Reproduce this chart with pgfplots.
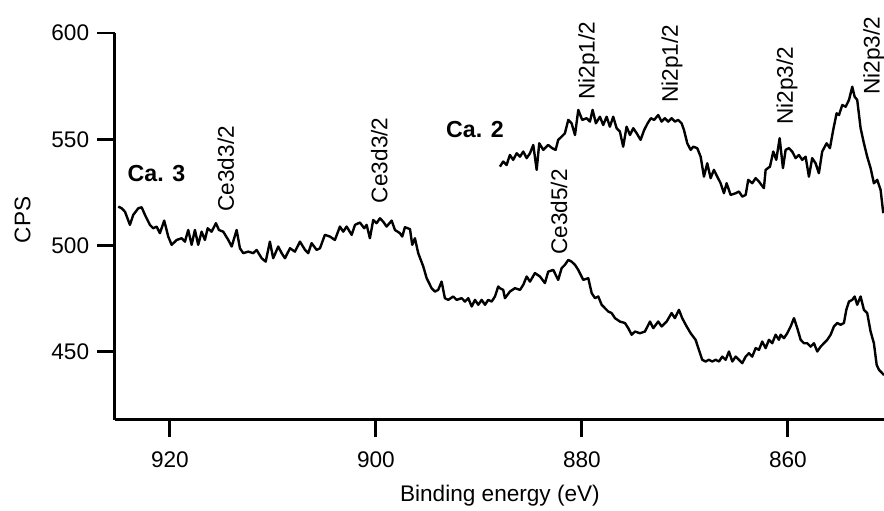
\documentclass[border=0pt]{standalone}
\usepackage{fontspec}
\setmainfont{Liberation Sans}
\usepackage{pgfplots}
\pgfplotsset{compat=1.18}
\pgfplotstableread{
x y
925.01 518.3
924.68 517.5
924.36 515.9
923.88 509.7
923.56 514.4
923.07 517.5
922.74 518.0
922.42 514.4
921.94 509.7
921.62 508.1
921.29 508.9
920.97 505.8
920.55 511.7
920.16 504.2
919.83 500.3
919.34 502.6
918.86 503.4
918.54 501.8
918.22 507.3
917.89 500.3
917.57 507.3
917.25 500.3
916.92 506.5
916.60 502.6
916.33 508.1
915.95 506.5
915.53 510.5
915.24 507.3
914.82 506.5
914.33 502.6
914.00 499.5
913.52 507.3
913.20 498.7
912.88 496.4
912.39 497.1
911.91 496.4
911.58 497.9
911.09 494.0
910.70 492.4
910.29 501.8
909.97 494.0
909.48 499.5
909.15 496.4
908.83 494.0
908.34 498.7
907.86 497.1
907.37 501.8
906.89 498.0
906.57 496.4
906.24 501.1
905.75 497.9
905.43 498.7
904.95 505.0
904.46 504.2
903.98 502.6
903.49 508.9
903.17 506.5
902.84 508.9
902.35 505.0
902.03 509.7
901.55 510.8
901.13 508.1
900.90 509.7
900.58 503.4
900.26 512.0
899.93 510.5
899.61 512.8
899.29 511.2
898.96 508.9
898.47 511.7
898.15 507.3
897.67 505.8
897.44 504.2
897.18 508.6
896.69 507.7
896.47 500.3
896.21 503.4
895.89 496.4
895.40 490.1
895.07 484.6
894.59 479.9
894.27 478.3
893.95 479.1
893.62 483.0
893.30 475.2
892.98 474.4
892.49 476.0
892.16 474.4
891.67 475.2
891.35 473.6
891.03 475.2
890.70 471.3
890.38 474.4
890.06 472.1
889.73 474.4
889.41 472.1
889.09 474.4
888.76 473.6
888.44 476.0
888.12 480.7
887.96 479.9
887.64 479.1
887.47 475.2
886.99 478.3
886.50 479.9
886.01 479.1
885.69 481.5
885.36 485.4
885.04 483.0
884.56 487.0
884.07 485.4
883.59 482.3
883.27 487.7
882.78 488.5
882.30 483.8
881.97 489.3
881.65 490.9
881.32 493.2
881.00 492.4
880.67 490.9
880.35 488.5
879.87 483.8
879.38 484.6
879.05 477.6
878.73 475.2
878.41 476.0
878.08 472.1
877.76 470.5
877.44 468.9
877.11 468.2
876.79 465.8
876.31 464.2
875.82 463.5
875.50 461.1
875.17 458.0
874.85 459.5
874.36 458.7
873.88 459.5
873.39 464.2
873.07 461.1
872.59 464.2
872.26 461.9
871.77 464.2
871.29 468.2
870.97 465.8
870.58 469.7
870.26 465.8
869.83 461.9
869.44 458.7
868.96 455.6
868.64 450.9
868.32 446.2
867.99 445.4
867.67 446.2
867.34 445.4
867.01 446.2
866.69 445.4
866.37 447.7
866.04 446.2
865.72 450.1
865.40 445.4
865.07 447.7
864.75 446.2
864.43 444.6
864.10 447.7
863.78 449.3
863.46 447.7
863.13 451.7
862.81 450.9
862.49 454.8
862.16 451.7
861.84 455.6
861.52 454.0
861.19 458.0
860.87 455.6
860.70 458.0
860.38 456.4
860.06 458.7
859.73 461.9
859.41 465.8
859.09 461.1
858.76 455.6
858.44 454.0
858.12 454.0
857.79 452.4
857.47 454.0
857.15 450.1
856.82 452.4
856.50 454.0
856.18 455.6
855.85 458.0
855.53 461.9
855.21 463.5
854.88 462.7
854.56 463.5
854.33 469.7
854.07 473.6
853.75 474.4
853.52 476.0
853.27 472.1
852.94 476.0
852.62 469.7
852.30 468.2
851.97 459.5
851.65 454.0
851.38 443.8
851.16 441.5
850.84 439.9
850.67 439.0
}\lowercurve
\pgfplotstableread{
x y
887.96 537.1
887.64 539.5
887.31 537.9
886.99 542.6
886.67 540.3
886.33 543.4
886.01 541.8
885.69 544.2
885.36 541.1
885.04 543.4
884.72 547.3
884.39 535.6
884.14 548.1
883.75 545.0
883.27 547.3
882.88 545.8
882.55 545.0
882.30 549.7
881.97 551.2
881.65 552.8
881.32 559.1
881.00 557.5
880.67 552.0
880.35 563.8
879.97 559.1
879.54 559.9
879.22 558.3
878.96 563.8
878.64 557.5
878.25 560.6
877.93 556.7
877.60 560.6
877.28 555.9
876.96 560.6
876.63 555.2
876.31 553.6
875.99 546.5
875.66 555.9
875.33 552.0
875.01 555.2
874.68 552.8
874.30 549.7
873.95 554.4
873.62 557.5
873.30 559.9
872.98 559.1
872.59 561.4
872.26 558.3
871.94 559.9
871.62 558.3
871.29 559.9
870.97 558.3
870.65 559.1
870.32 557.5
870.09 554.4
869.77 548.1
869.44 545.0
869.19 546.5
868.80 545.8
868.47 541.8
868.15 532.4
867.83 538.7
867.50 531.7
867.18 535.6
866.86 532.4
866.53 529.3
866.21 524.6
865.95 529.3
865.56 523.8
865.07 524.6
864.75 525.4
864.43 523.0
864.10 523.8
863.85 530.9
863.46 529.3
863.13 531.7
862.81 530.1
862.33 527.0
862.16 535.6
861.74 537.1
861.42 544.2
861.13 540.3
860.80 550.5
860.48 536.4
860.22 545.0
859.90 545.8
859.58 544.2
859.25 541.1
858.93 542.6
858.61 540.3
858.28 541.8
857.96 532.4
857.64 541.1
857.31 538.7
856.99 534.0
856.67 544.2
856.24 548.1
855.92 545.8
855.60 554.4
855.27 562.2
855.04 561.4
854.72 566.1
854.39 565.3
854.07 568.5
853.75 574.7
853.52 570.0
853.27 568.5
852.94 555.2
852.62 548.1
852.30 541.8
851.97 536.4
851.65 529.3
851.33 530.9
851.00 526.2
850.74 515.2
}\uppercurve
\begin{document}
\begin{tikzpicture}
\useasboundingbox (-57.5pt,-45.25pt) rectangle (384.5pt,209.75pt);
\begin{axis}[
  at={(0pt,0pt)}, anchor=south west,
  scale only axis, width=384.5pt, height=193.25pt,
  x dir=reverse,
  xmin=850.67, xmax=925.33, ymin=418.1, ymax=600,
  axis x line*=bottom, axis y line*=left,
  axis line style={line width=1.5pt, black},
  xtick={860,880,900,920}, ytick={450,500,550,600},
  tick align=outside, major tick length=8.75pt,
  tick style={line width=1.4pt, black},
  minor tick num=0,
  /pgf/number format/assume math mode=true,
  /pgf/number format/1000 sep={},
  ticklabel style={font=\fontsize{11.3}{13}\selectfont},
  xticklabel style={anchor=north, inner sep=0pt, yshift=-7pt},
  yticklabel style={anchor=east, inner sep=0pt, xshift=-4pt},
  xlabel={Binding energy (eV)},
  ylabel={CPS},
  label style={font=\fontsize{11.3}{13}\selectfont},
  xlabel style={at={(axis description cs:0.5006,-0.198)}, anchor=center},
  ylabel style={at={(axis description cs:-0.1203,0.516)}, anchor=center, rotate=0},
  clip=false,
]
\addplot[black, line width=1.2pt, line join=round] table[x=x,y=y] {\lowercurve};
\addplot[black, line width=1.2pt, line join=round] table[x=x,y=y] {\uppercurve};
\begin{scope}[every node/.style={inner sep=0pt, font=\fontsize{11.3}{13}\selectfont}]
\node[font=\fontsize{11.6}{13}\selectfont\bfseries] at (axis cs:921.3,533.8) {Ca. 3};
\node[font=\fontsize{11.6}{13}\selectfont\bfseries] at (axis cs:890.38,554.5) {Ca. 2};
\node[rotate=90, anchor=west] at (axis cs:914.56,515.8) {Ce3d3/2};
\node[rotate=90, anchor=west] at (axis cs:899.66,519.8) {Ce3d3/2};
\node[rotate=90, anchor=west] at (axis cs:882.23,495.4) {Ce3d5/2};
\node[rotate=90, anchor=west] at (axis cs:879.32,568.4) {Ni2p1/2};
\node[rotate=90, anchor=west] at (axis cs:871.26,567.0) {Ni2p1/2};
\node[rotate=90, anchor=west] at (axis cs:860.09,556.7) {Ni2p3/2};
\node[rotate=90, anchor=west] at (axis cs:851.65,570.8) {Ni2p3/2};
\end{scope}
\end{axis}
\end{tikzpicture}
\end{document}
